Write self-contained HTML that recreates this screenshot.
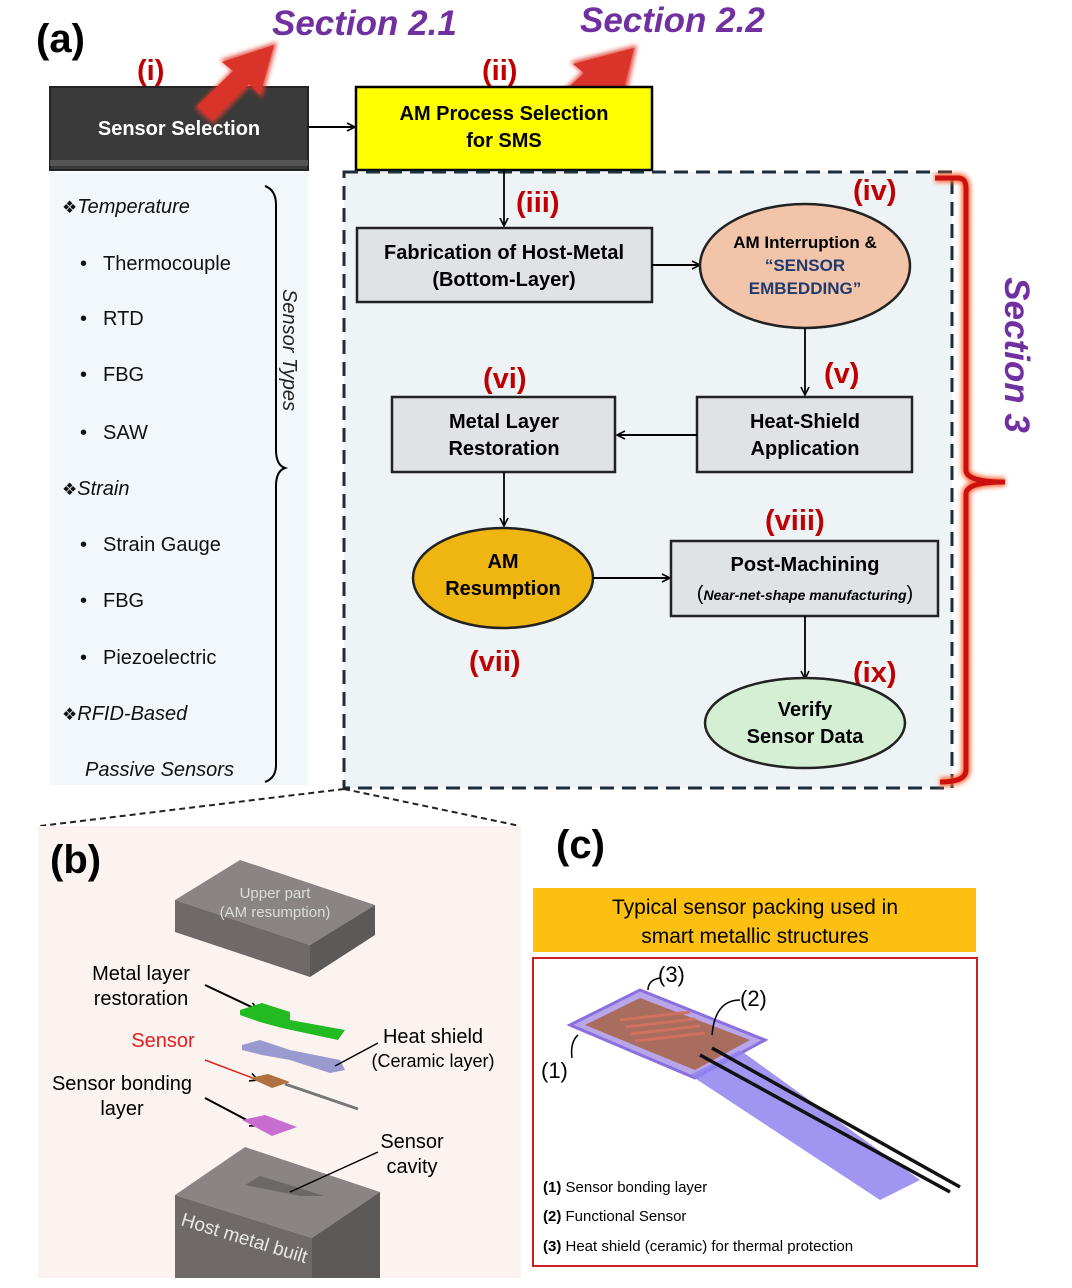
<!DOCTYPE html>
<html><head><meta charset="utf-8"><style>
html,body{margin:0;padding:0;background:#fff;}
svg{display:block;font-family:"Liberation Sans",sans-serif;}
.b{font-weight:bold;}
</style></head><body>
<svg width="1072" height="1288" viewBox="0 0 1072 1288" xmlns="http://www.w3.org/2000/svg">
<defs>
<marker id="ar" markerWidth="10" markerHeight="10" refX="9" refY="5" orient="auto" markerUnits="userSpaceOnUse"><path d="M1,1 L9,5 L1,9" fill="none" stroke="#000" stroke-width="1.6"/></marker>
<filter id="gl" x="-30%" y="-30%" width="160%" height="160%"><feGaussianBlur stdDeviation="2.5"/></filter>
</defs>
<rect width="1072" height="1288" fill="#fff"/>
<text x="36" y="52" font-size="40" class="b" fill="#000">(a)</text>
<text x="272" y="35" font-size="35" class="b" font-style="italic" fill="#7030a0">Section 2.1</text>
<text x="580" y="32" font-size="35" class="b" font-style="italic" fill="#7030a0">Section 2.2</text>
<text x="137" y="80" font-size="29" class="b" fill="#c00000">(i)</text>
<text x="482" y="80" font-size="29" class="b" fill="#c00000">(ii)</text>
<rect x="50" y="87" width="258" height="83" fill="#3a3a3a" stroke="#222" stroke-width="2"/>
<rect x="50" y="160" width="258" height="6" fill="#555"/>
<text x="179" y="135" font-size="20" class="b" fill="#fff" text-anchor="middle">Sensor Selection</text>
<g filter="url(#gl)" opacity="0.9"><polygon points="195,108 232,70 220,60 277,42 262,98 250,86 213,124" fill="#e23b2e"/></g>
<polygon points="197,106 233,71 222,62 274,45 260,95 249,84 212,120" fill="#d9332a"/>
<g filter="url(#gl)" opacity="0.9"><polygon points="545,108 582,72 570,62 637,45 625,100 612,90 565,124" fill="#e23b2e"/></g>
<polygon points="550,105 584,73 573,64 634,48 622,96 611,86 565,120" fill="#d9332a"/>
<rect x="356" y="87" width="296" height="83" fill="#ffff00" stroke="#000" stroke-width="2.5"/>
<text x="504" y="120" font-size="20" class="b" text-anchor="middle">AM Process Selection</text>
<text x="504" y="147" font-size="20" class="b" text-anchor="middle">for SMS</text>
<line x1="309" y1="127" x2="355" y2="127" stroke="#000" stroke-width="2" marker-end="url(#ar)"/>
<rect x="50" y="172" width="258" height="613" fill="#f1f7fb"/>
<g font-size="20" fill="#111">
<text x="62" y="213"><tspan font-size="17">❖</tspan><tspan font-style="italic">Temperature</tspan></text>
<text x="80" y="270">•</text><text x="103" y="270">Thermocouple</text>
<text x="80" y="325">•</text><text x="103" y="325">RTD</text>
<text x="80" y="381">•</text><text x="103" y="381">FBG</text>
<text x="80" y="439">•</text><text x="103" y="439">SAW</text>
<text x="62" y="495"><tspan font-size="17">❖</tspan><tspan font-style="italic">Strain</tspan></text>
<text x="80" y="551">•</text><text x="103" y="551">Strain Gauge</text>
<text x="80" y="607">•</text><text x="103" y="607">FBG</text>
<text x="80" y="664">•</text><text x="103" y="664">Piezoelectric</text>
<text x="62" y="720"><tspan font-size="17">❖</tspan><tspan font-style="italic">RFID-Based</tspan></text>
<text x="85" y="776" font-style="italic">Passive Sensors</text>
</g>
<path d="M265,186 Q276,190 276,205 L276,450 Q276,465 285,468 Q276,471 276,486 L276,765 Q276,778 265,782" fill="none" stroke="#000" stroke-width="2"/>
<text transform="translate(283,350) rotate(90)" font-size="20" font-style="italic" text-anchor="middle" fill="#222">Sensor Types</text>
<rect x="344" y="172" width="608" height="616" fill="#eef3f6" stroke="#1f2d3a" stroke-width="3" stroke-dasharray="14,8"/>
<g filter="url(#gl)"><path d="M935,178 L958,178 Q966,178 966,188 L966,470 Q966,482 1005,482 Q966,482 966,494 L966,770 Q966,782 940,782" fill="none" stroke="#ff6a3a" stroke-width="9"/></g>
<path d="M935,178 L958,178 Q966,178 966,188 L966,470 Q966,482 1005,482 Q966,482 966,494 L966,770 Q966,782 940,782" fill="none" stroke="#cc1010" stroke-width="5"/>
<text transform="translate(1005,355) rotate(90)" font-size="35" class="b" font-style="italic" fill="#7030a0" text-anchor="middle">Section 3</text>
<line x1="504" y1="171" x2="504" y2="226" stroke="#000" stroke-width="1.8" marker-end="url(#ar)"/>
<text x="516" y="212" font-size="29" class="b" fill="#c00000">(iii)</text>
<text x="853" y="200" font-size="29" class="b" fill="#c00000">(iv)</text>
<rect x="357" y="228" width="295" height="74" fill="#dfe3e6" stroke="#222" stroke-width="2.5"/>
<text x="504" y="259" font-size="20" class="b" text-anchor="middle">Fabrication of Host-Metal</text>
<text x="504" y="286" font-size="20" class="b" text-anchor="middle">(Bottom-Layer)</text>
<line x1="652" y1="265" x2="700" y2="265" stroke="#000" stroke-width="2" marker-end="url(#ar)"/>
<ellipse cx="805" cy="266" rx="105" ry="62" fill="#f2c4a9" stroke="#222" stroke-width="2.5"/>
<text x="805" y="248" font-size="17" class="b" text-anchor="middle">AM Interruption &amp;</text>
<text x="805" y="271" font-size="17" class="b" fill="#1f3a6e" text-anchor="middle">“SENSOR</text>
<text x="805" y="294" font-size="17" class="b" fill="#1f3a6e" text-anchor="middle">EMBEDDING”</text>
<line x1="805" y1="328" x2="805" y2="395" stroke="#000" stroke-width="1.8" marker-end="url(#ar)"/>
<text x="824" y="383" font-size="29" class="b" fill="#c00000">(v)</text>
<rect x="697" y="397" width="215" height="75" fill="#dfe3e6" stroke="#222" stroke-width="2.5"/>
<text x="805" y="428" font-size="20" class="b" text-anchor="middle">Heat-Shield</text>
<text x="805" y="455" font-size="20" class="b" text-anchor="middle">Application</text>
<line x1="697" y1="435" x2="617" y2="435" stroke="#000" stroke-width="2" marker-end="url(#ar)"/>
<text x="483" y="388" font-size="29" class="b" fill="#c00000">(vi)</text>
<rect x="392" y="397" width="223" height="75" fill="#dfe3e6" stroke="#222" stroke-width="2.5"/>
<text x="504" y="428" font-size="20" class="b" text-anchor="middle">Metal Layer</text>
<text x="504" y="455" font-size="20" class="b" text-anchor="middle">Restoration</text>
<line x1="504" y1="472" x2="504" y2="526" stroke="#000" stroke-width="1.8" marker-end="url(#ar)"/>
<ellipse cx="503" cy="578" rx="90" ry="50" fill="#efb511" stroke="#222" stroke-width="2.5"/>
<text x="503" y="568" font-size="20" class="b" text-anchor="middle">AM</text>
<text x="503" y="595" font-size="20" class="b" text-anchor="middle">Resumption</text>
<text x="469" y="671" font-size="29" class="b" fill="#c00000">(vii)</text>
<line x1="593" y1="578" x2="670" y2="578" stroke="#000" stroke-width="2" marker-end="url(#ar)"/>
<text x="765" y="530" font-size="29" class="b" fill="#c00000">(viii)</text>
<rect x="671" y="541" width="267" height="75" fill="#dfe3e6" stroke="#222" stroke-width="2.5"/>
<text x="805" y="571" font-size="20" class="b" text-anchor="middle">Post-Machining</text>
<text x="805" y="600" font-size="14" text-anchor="middle"><tspan font-size="20">(</tspan><tspan class="b" font-style="italic">Near-net-shape manufacturing</tspan><tspan font-size="20">)</tspan></text>
<line x1="805" y1="616" x2="805" y2="679" stroke="#000" stroke-width="1.8" marker-end="url(#ar)"/>
<text x="853" y="682" font-size="29" class="b" fill="#c00000">(ix)</text>
<ellipse cx="805" cy="723" rx="100" ry="45" fill="#d5efd5" stroke="#222" stroke-width="2.5"/>
<text x="805" y="716" font-size="20" class="b" text-anchor="middle">Verify</text>
<text x="805" y="743" font-size="20" class="b" text-anchor="middle">Sensor Data</text>
<line x1="344" y1="789" x2="40" y2="826" stroke="#222" stroke-width="2" stroke-dasharray="6,4"/>
<line x1="344" y1="789" x2="520" y2="826" stroke="#222" stroke-width="2" stroke-dasharray="6,4"/>
<rect x="38" y="826" width="483" height="452" fill="#fbf3ef"/>
<text x="50" y="873" font-size="40" class="b">(b)</text>
<polygon points="175,900 240,860 375,905 310,945" fill="#8a8584"/>
<polygon points="175,900 310,945 310,977 175,932" fill="#6f6a69"/>
<polygon points="310,945 375,905 375,935 310,977" fill="#5d5958"/>
<text x="275" y="898" font-size="15" fill="#ddd" text-anchor="middle">Upper part</text>
<text x="275" y="917" font-size="15" fill="#ddd" text-anchor="middle">(AM resumption)</text>
<text x="141" y="980" font-size="20" text-anchor="middle">Metal layer</text>
<text x="141" y="1005" font-size="20" text-anchor="middle">restoration</text>
<line x1="205" y1="985" x2="258" y2="1010" stroke="#000" stroke-width="2" marker-end="url(#ar)"/>
<polygon points="240,1010 262,1003 290,1012 290,1020 345,1030 338,1040 282,1028 260,1022 240,1015" fill="#22bb22"/>
<polygon points="242,1045 260,1040 290,1050 340,1060 345,1070 330,1073 290,1060 262,1055 242,1050" fill="#9a9ad0"/>
<text x="433" y="1043" font-size="20" text-anchor="middle">Heat shield</text>
<text x="433" y="1067" font-size="18" text-anchor="middle">(Ceramic layer)</text>
<line x1="378" y1="1043" x2="335" y2="1066" stroke="#000" stroke-width="1.5"/>
<text x="163" y="1047" font-size="20" fill="#e02020" text-anchor="middle">Sensor</text>
<line x1="205" y1="1060" x2="258" y2="1080" stroke="#e02020" stroke-width="1.5" marker-end="url(#ar)"/>
<polygon points="250,1078 268,1074 290,1082 272,1088" fill="#b07040"/>
<line x1="285" y1="1084" x2="358" y2="1109" stroke="#777" stroke-width="3"/>
<text x="122" y="1090" font-size="20" text-anchor="middle">Sensor bonding</text>
<text x="122" y="1115" font-size="20" text-anchor="middle">layer</text>
<line x1="205" y1="1098" x2="258" y2="1126" stroke="#000" stroke-width="2" marker-end="url(#ar)"/>
<polygon points="242,1120 265,1115 297,1127 272,1136" fill="#c86ed0"/>
<polygon points="175,1195 245,1147 380,1192 312,1238" fill="#8a8584"/>
<polygon points="175,1195 312,1238 312,1278 175,1278" fill="#6f6a69"/>
<polygon points="312,1238 380,1192 380,1278 312,1278" fill="#5d5958"/>
<polygon points="245,1185 260,1176 325,1196 300,1196" fill="#6c6867"/>
<text transform="translate(180,1225) rotate(17)" font-size="19" fill="#e8e8e8">Host metal built</text>
<text x="412" y="1148" font-size="20" text-anchor="middle">Sensor</text>
<text x="412" y="1173" font-size="20" text-anchor="middle">cavity</text>
<line x1="378" y1="1152" x2="290" y2="1192" stroke="#000" stroke-width="1.5"/>
<text x="556" y="858" font-size="40" class="b">(c)</text>
<rect x="533" y="888" width="443" height="64" fill="#fdc010"/>
<text x="755" y="914" font-size="21" text-anchor="middle">Typical sensor packing used in</text>
<text x="755" y="943" font-size="21" text-anchor="middle">smart metallic structures</text>
<rect x="533" y="958" width="444" height="308" fill="#fff" stroke="#cc2020" stroke-width="2"/>
<polygon points="570,1025 640,990 765,1040 695,1078" fill="#b9a6e8" stroke="#8a6fe0" stroke-width="3"/>
<polygon points="690,1075 740,1050 920,1180 880,1200" fill="#8f84ee" opacity="0.85"/>
<polygon points="585,1025 640,998 750,1040 695,1070" fill="#a86d5e"/>
<g stroke="#d07060" stroke-width="3"><line x1="620" y1="1020" x2="690" y2="1012"/><line x1="625" y1="1027" x2="695" y2="1019"/><line x1="630" y1="1034" x2="700" y2="1026"/><line x1="635" y1="1041" x2="705" y2="1033"/></g>
<line x1="700" y1="1055" x2="950" y2="1192" stroke="#111" stroke-width="3.5"/>
<line x1="712" y1="1048" x2="960" y2="1187" stroke="#111" stroke-width="3.5"/>
<text x="658" y="982" font-size="22">(3)</text>
<text x="740" y="1006" font-size="22">(2)</text>
<text x="541" y="1078" font-size="22">(1)</text>
<path d="M660,978 Q648,980 648,990" fill="none" stroke="#000" stroke-width="1.5"/>
<path d="M740,1000 Q715,1000 712,1035" fill="none" stroke="#000" stroke-width="1.5"/>
<path d="M572,1058 Q570,1042 578,1035" fill="none" stroke="#000" stroke-width="1.5"/>
<text x="543" y="1192" font-size="15"><tspan class="b">(1)</tspan> Sensor bonding layer</text>
<text x="543" y="1221" font-size="15"><tspan class="b">(2)</tspan> Functional Sensor</text>
<text x="543" y="1251" font-size="15"><tspan class="b">(3)</tspan> Heat shield (ceramic) for thermal protection</text>
</svg>
</body></html>
